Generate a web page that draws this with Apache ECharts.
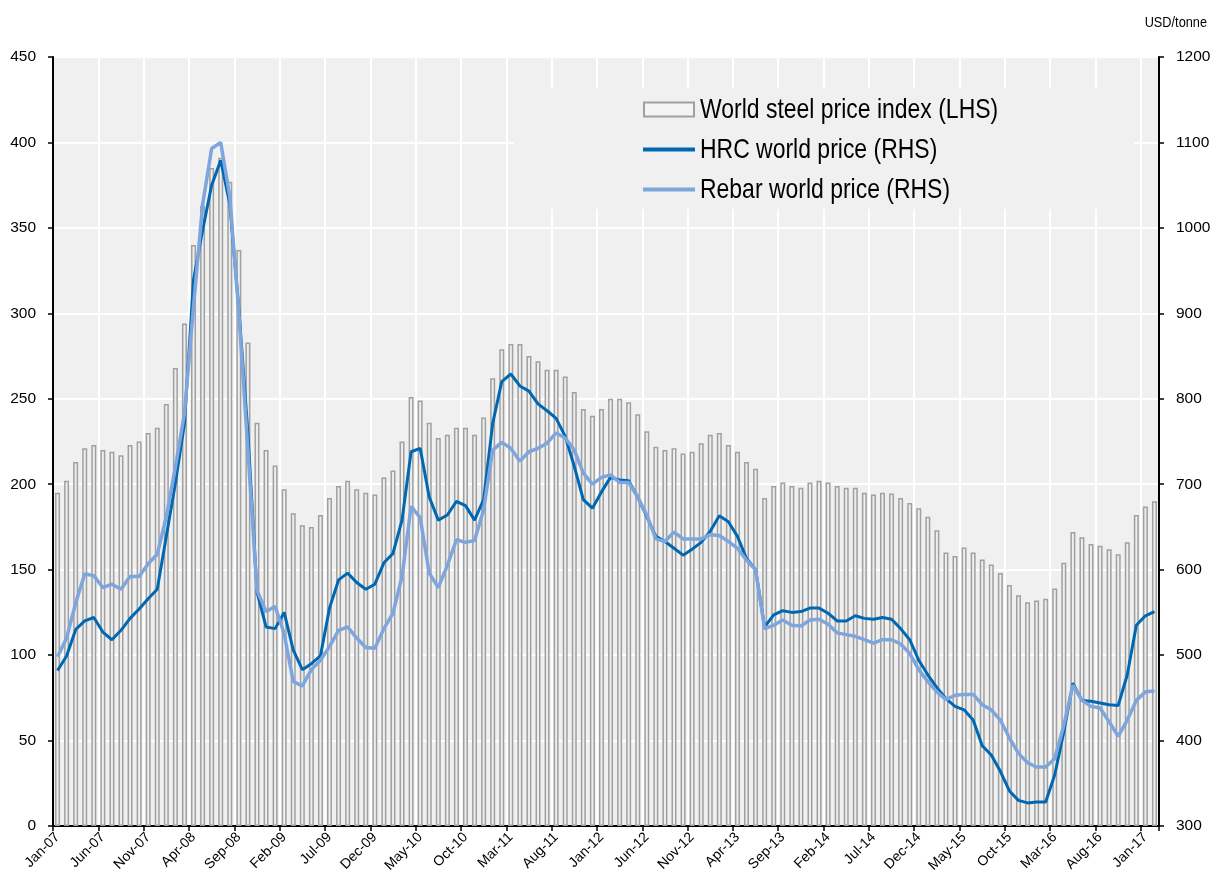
<!DOCTYPE html>
<html><head><meta charset="utf-8">
<script src="https://cdn.jsdelivr.net/npm/echarts@6/dist/echarts.min.js"></script>
<style>html,body{margin:0;padding:0;background:#fff}#c{width:1214px;height:875px}</style>
</head><body><div id="c"></div>
<script>
const FONT = "'Liberation Sans','Arial',sans-serif";
const monthNames = ['Jan','Feb','Mar','Apr','May','Jun','Jul','Aug','Sep','Oct','Nov','Dec'];
const startYear = 2007, monthCount = 122;
const categories = [];
for (let k = 0; k < monthCount; k++) {
  const y = startYear + Math.floor(k / 12);
  categories.push(monthNames[k % 12] + '-' + String(y % 100).padStart(2, '0'));
}
const seriesNames = ['World steel price index (LHS)', 'HRC world price (RHS)', 'Rebar world price (RHS)'];
const seriesColors = ['#a0a0a0', '#0068b3', '#7ea6dd'];
const steelIndex = [
  195,202,213,221,223,220,219,217,223,225,230,233,
  247,268,294,340,363,385,391,377,337,283,236,220,
  211,197,183,176,175,182,192,199,202,197,195,194,
  204,208,225,251,249,236,227,229,233,233,229,239,
  262,279,282,282,275,272,267,267,263,254,244,240,
  244,250,250,248,241,231,222,220,221,218,219,224,
  229,230,223,219,213,209,192,199,201,199,198,201,
  202,201,199,198,198,195,194,195,194.5,192,189,186,
  181,173,160,158,163,160,156,153,148,141,135,131,
  132,133,139,154,172,169,165,164,162,159,166,182,
  187,190
];
const hrcPrice = [
  482,499,530,540,544,527,518,529,543,554,566,577,
  639,701,771,939,997,1050,1079,1028,905,760,574,533,
  531,550,506,483,490,499,555,588,596,585,577,583,
  608,619,658,738,742,685,658,664,680,675,658,682,
  771,820,829,815,809,794,786,777,756,721,682,672,
  691,708,705,704,685,662,639,633,625,617,624,632,
  645,663,656,639,613,600,533,547,552,550,551,555,
  555,549,540,540,546,543,542,544,542,531,518,494,
  477,462,449,440,436,424,394,383,364,341,330,327,
  328,328,360,410,467,447,446,444,442,441,477,535,
  546,551
];
const rebarPrice = [
  498,520,561,595,593,579,583,577,592,592,607,618,
  662,720,783,908,1027,1093,1100,1037,900,740,576,551,
  557,525,469,464,483,494,510,529,533,520,509,508,
  531,549,592,674,661,596,579,605,635,632,634,670,
  740,749,742,727,738,742,748,760,754,740,713,700,
  708,711,702,702,685,664,636,633,644,636,636,636,
  641,640,633,625,611,600,531,535,541,535,534,541,
  542,536,526,524,522,518,514,518,518,513,502,483,
  469,457,448,453,454,454,442,436,424,403,385,374,
  369,369,379,418,465,447,440,438,422,405,424,447,
  457,458
];

const NARROW = 0.82;
function legendText(txt, y) {
  return {type: 'text', z: 6, x: 700, y: y, scaleX: NARROW,
    style: {text: txt, fontSize: 28, fontFamily: FONT, fill: '#000', align: 'left', verticalAlign: 'middle'}};
}

const chart = echarts.init(document.getElementById('c'), null, {renderer: 'canvas'});
chart.setOption({
  animation: false,
  backgroundColor: '#ffffff',
  textStyle: {fontFamily: FONT, color: '#000'},
  grid: {left: 53, right: 55, top: 57, bottom: 49, show: true, backgroundColor: '#f0f0f0', borderWidth: 0,
         containLabel: false, outerBoundsMode: 'none'},
  graphic: [
    {type: 'rect', z: 1, shape: {x: 514, y: 88, width: 620, height: 121}, style: {fill: '#f0f0f0'}},
    {type: 'rect', z: 6, shape: {x: 644, y: 102.5, width: 50, height: 14}, style: {fill: '#f4f4f4', stroke: seriesColors[0], lineWidth: 2}},
    {type: 'line', z: 6, shape: {x1: 643, y1: 149.5, x2: 695, y2: 149.5}, style: {stroke: seriesColors[1], lineWidth: 4}},
    {type: 'line', z: 6, shape: {x1: 643, y1: 189.5, x2: 695, y2: 189.5}, style: {stroke: seriesColors[2], lineWidth: 4}},
    legendText(seriesNames[0], 110),
    legendText(seriesNames[1], 150),
    legendText(seriesNames[2], 190),
    {type: 'text', z: 6, x: 1207, y: 23, scaleX: 0.85,
     style: {text: 'USD/tonne', fontSize: 15, fontFamily: FONT, fill: '#000', align: 'right', verticalAlign: 'middle'}}
  ],
  xAxis: {
    type: 'category', data: categories, boundaryGap: true,
    axisLine: {lineStyle: {color: '#000', width: 2}},
    axisTick: {show: true, interval: 4, length: 5, lineStyle: {color: '#000', width: 1.5}},
    axisLabel: {interval: 4, rotate: 45, fontSize: 14, margin: 9, color: '#000', fontFamily: FONT},
    splitLine: {show: true, interval: 4, lineStyle: {color: '#ffffff', width: 2}}
  },
  yAxis: [
    {type: 'value', min: 0, max: 450, interval: 50, position: 'left',
     axisLine: {show: true, lineStyle: {color: '#000', width: 2}},
     axisTick: {show: true, length: 5, lineStyle: {color: '#000', width: 1.5}},
     axisLabel: {fontSize: 15.5, margin: 17, color: '#000', fontFamily: FONT, formatter: v => String(v)},
     splitLine: {show: true, lineStyle: {color: '#ffffff', width: 2}}},
    {type: 'value', min: 300, max: 1200, interval: 100, position: 'right',
     axisLine: {show: true, lineStyle: {color: '#000', width: 2}},
     axisTick: {show: true, length: 5, lineStyle: {color: '#000', width: 1.5}},
     axisLabel: {fontSize: 15.5, margin: 17, color: '#000', fontFamily: FONT, formatter: v => String(v)},
     splitLine: {show: false}}
  ],
  series: [
    {name: seriesNames[0], type: 'bar', yAxisIndex: 0, data: steelIndex, barWidth: 5, z: 2,
     itemStyle: {color: '#eeeeee', borderColor: seriesColors[0], borderWidth: 1.5}},
    {name: seriesNames[1], type: 'line', yAxisIndex: 1, data: hrcPrice, symbol: 'none', z: 3,
     lineStyle: {color: seriesColors[1], width: 3}, itemStyle: {color: seriesColors[1]}},
    {name: seriesNames[2], type: 'line', yAxisIndex: 1, data: rebarPrice, symbol: 'none', z: 4,
     lineStyle: {color: seriesColors[2], width: 3.5}, itemStyle: {color: seriesColors[2]}}
  ]
});
</script></body></html>
